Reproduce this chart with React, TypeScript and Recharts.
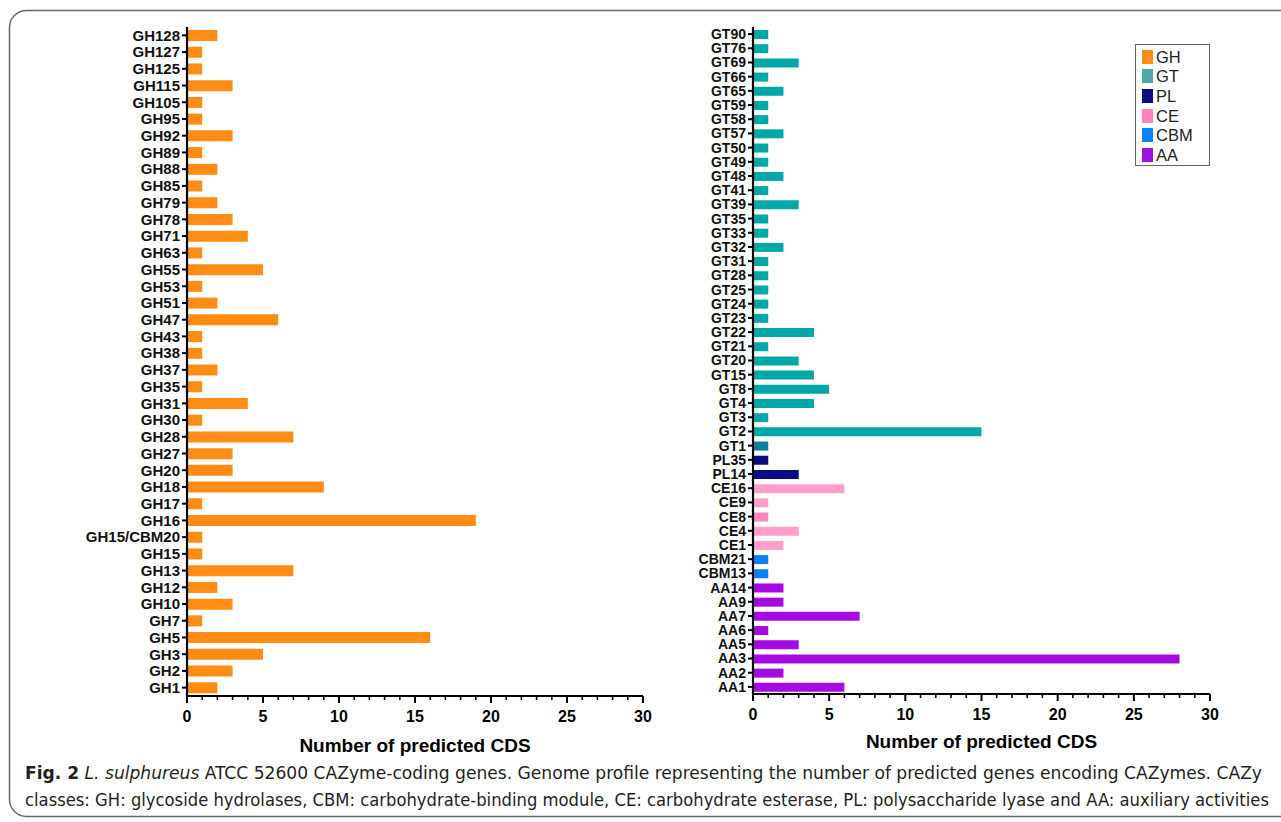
import React from 'react';
import { BarChart, Bar, XAxis, YAxis, Cell, Legend } from 'recharts';

// ---------- data ----------
const ghLabels = [
  'GH128', 'GH127', 'GH125', 'GH115', 'GH105', 'GH95', 'GH92', 'GH89', 'GH88', 'GH85',
  'GH79', 'GH78', 'GH71', 'GH63', 'GH55', 'GH53', 'GH51', 'GH47', 'GH43', 'GH38',
  'GH37', 'GH35', 'GH31', 'GH30', 'GH28', 'GH27', 'GH20', 'GH18', 'GH17', 'GH16',
  'GH15/CBM20', 'GH15', 'GH13', 'GH12', 'GH10', 'GH7', 'GH5', 'GH3', 'GH2', 'GH1',
];
const ghValues = [
  2, 1, 1, 3, 1, 1, 3, 1, 2, 1,
  2, 3, 4, 1, 5, 1, 2, 6, 1, 1,
  2, 1, 4, 1, 7, 3, 3, 9, 1, 19,
  1, 1, 7, 2, 3, 1, 16, 5, 3, 2,
];

const gtLabels = [
  'GT90', 'GT76', 'GT69', 'GT66', 'GT65', 'GT59', 'GT58', 'GT57', 'GT50', 'GT49',
  'GT48', 'GT41', 'GT39', 'GT35', 'GT33', 'GT32', 'GT31', 'GT28', 'GT25', 'GT24',
  'GT23', 'GT22', 'GT21', 'GT20', 'GT15', 'GT8', 'GT4', 'GT3', 'GT2', 'GT1',
];
const gtValues = [
  1, 1, 3, 1, 2, 1, 1, 2, 1, 1,
  2, 1, 3, 1, 1, 2, 1, 1, 1, 1,
  1, 4, 1, 3, 4, 5, 4, 1, 15, 1,
];
const plLabels = ['PL35', 'PL14'];
const plValues = [1, 3];
const ceLabels = ['CE16', 'CE9', 'CE8', 'CE4', 'CE1'];
const ceValues = [6, 1, 1, 3, 2];
const cbmLabels = ['CBM21', 'CBM13'];
const cbmValues = [1, 1];
const aaLabels = ['AA14', 'AA9', 'AA7', 'AA6', 'AA5', 'AA3', 'AA2', 'AA1'];
const aaValues = [2, 2, 7, 1, 3, 28, 2, 6];

const xTicks = [0, 1, 2, 3, 4, 5, 6, 7, 8, 9, 10, 11, 12, 13, 14, 15, 16, 17, 18, 19, 20, 21, 22, 23, 24, 25, 26, 27, 28, 29, 30];
const xMajorTicks = [0, 5, 10, 15, 20, 25, 30];
const legendClasses = ['GH', 'GT', 'PL', 'CE', 'CBM', 'AA'];
const axisTitle = 'Number of predicted CDS';

// ---------- styles ----------
const FONT = '"Liberation Sans", Arial, Helvetica, sans-serif';
const CAPTION_FONT = '"Liberation Sans Narrow", "DejaVu Sans Condensed", "Open Sans", sans-serif';
const barColors: Record<string, string> = {
  GH: '#ff8c14',
  GT: '#00a8a8',
  PL: '#0a0a85',
  CE: '#ff9fcc',
  CBM: '#0a80ff',
  AA: '#a60ae2',
};
const barColorOverrides: Record<string, string> = {
  GT1: '#0b7f9b',
  CE8: '#ff85c2',
};
const legendColors: Record<string, string> = {
  GH: '#ff8c1a',
  GT: '#4fa8a8',
  PL: '#0d0d80',
  CE: '#ff80c0',
  CBM: '#0a84ff',
  AA: '#a010e0',
};

const leftData = ghLabels.map((name, i) => ({ name, value: ghValues[i], cls: 'GH' }));
const rightGroups: [string, string[], number[]][] = [
  ['GT', gtLabels, gtValues],
  ['PL', plLabels, plValues],
  ['CE', ceLabels, ceValues],
  ['CBM', cbmLabels, cbmValues],
  ['AA', aaLabels, aaValues],
];
const rightData = rightGroups.flatMap(([cls, labels, values]) =>
  labels.map((name, i) => ({ name, value: values[i], cls }))
);

const colorFor = (d: { name: string; cls: string }) =>
  barColorOverrides[d.name] ?? barColors[d.cls];

const XTick = (props: any) => {
  const { x, y, payload } = props;
  const major = xMajorTicks.includes(payload.value);
  return (
    <g>
      <line
        x1={x}
        x2={x}
        y1={y}
        y2={y + (major ? 7 : 4)}
        stroke="#000"
        strokeWidth={major ? 2 : 1.6}
      />
      {major && (
        <text
          x={x}
          y={y + 26}
          textAnchor="middle"
          fontSize={16}
          fontWeight="bold"
          fontFamily={FONT}
          fill="#000"
        >
          {payload.value}
        </text>
      )}
    </g>
  );
};

const LegendBox = () => (
  <div
    style={{
      width: 75,
      height: 122,
      boxSizing: 'border-box',
      border: '1.5px solid #666',
      background: '#fff',
      paddingTop: 2,
      fontFamily: FONT,
    }}
  >
    {legendClasses.map((c) => (
      <div
        key={c}
        style={{ display: 'flex', alignItems: 'center', height: 19.6, marginLeft: 6 }}
      >
        <div style={{ width: 11, height: 14, background: legendColors[c], marginRight: 3 }} />
        <span style={{ fontSize: 16.5, color: '#222', lineHeight: '16px' }}>{c}</span>
      </div>
    ))}
  </div>
);

const ChartPanel = ({
  data,
  width,
  yAxisWidth,
  margin,
  barSize,
  titleOffset,
  tickFontSize,
  withLegend,
}: {
  data: { name: string; value: number; cls: string }[];
  width: number;
  yAxisWidth: number;
  margin: { top: number; right: number; bottom: number; left: number };
  barSize: number;
  titleOffset: number;
  tickFontSize: number;
  withLegend?: boolean;
}) => (
  <BarChart width={width} height={822} data={data} layout="vertical" margin={margin}>
    <XAxis
      type="number"
      domain={[0, 30]}
      ticks={xTicks}
      interval={0}
      tickSize={0}
      tickMargin={0}
      tickLine={false}
      tick={<XTick />}
      height={30}
      axisLine={{ stroke: '#000', strokeWidth: 2.2 }}
      label={{
        value: axisTitle,
        position: 'bottom',
        offset: titleOffset,
        style: { fontSize: 19, fontWeight: 'bold', fontFamily: FONT, fill: '#000' },
      }}
    />
    <YAxis
      type="category"
      dataKey="name"
      width={yAxisWidth}
      interval={0}
      tickSize={5}
      tickMargin={2}
      tickLine={{ stroke: '#000', strokeWidth: 2 }}
      axisLine={{ stroke: '#000', strokeWidth: 2.2 }}
      tick={{ fontSize: tickFontSize, fontWeight: 'bold', fontFamily: FONT, fill: '#111' }}
    />
    <Bar dataKey="value" barSize={barSize} isAnimationActive={false}>
      {data.map((d) => (
        <Cell key={d.name} fill={colorFor(d)} />
      ))}
    </Bar>
    {withLegend && (
      <Legend
        layout="vertical"
        align="center"
        verticalAlign="middle"
        content={<LegendBox />}
        wrapperStyle={{ position: 'absolute', left: 475, top: 44, width: 75, height: 122 }}
      />
    )}
  </BarChart>
);

export default function App() {
  return (
    <div
      style={{
        position: 'absolute',
        left: 0,
        top: 0,
        width: 1281,
        height: 822,
        background: '#fff',
        overflow: 'hidden',
      }}
    >
      <svg width={1281} height={822} style={{ position: 'absolute', left: 0, top: 0 }}>
        <rect
          x={9.5}
          y={10.5}
          width={1320}
          height={806}
          rx={17}
          ry={17}
          fill="none"
          stroke="#6a6a6a"
          strokeWidth={1.5}
        />
        <text
          x={25}
          y={779}
          fontSize={18}
          fill="#231f20"
          fontFamily={CAPTION_FONT}
          textLength={1237}
          lengthAdjust="spacingAndGlyphs"
        >
          <tspan fontWeight="bold">Fig. 2</tspan>
          <tspan>{'  '}</tspan>
          <tspan fontStyle="italic">L. sulphureus</tspan>
          <tspan>
            {' ATCC 52600 CAZyme-coding genes. Genome profile representing the number of predicted genes encoding CAZymes. CAZy'}
          </tspan>
        </text>
        <text
          x={25}
          y={806}
          fontSize={18}
          fill="#231f20"
          fontFamily={CAPTION_FONT}
          textLength={1244}
          lengthAdjust="spacingAndGlyphs"
        >
          classes: GH: glycoside hydrolases, CBM: carbohydrate-binding module, CE: carbohydrate esterase, PL: polysaccharide lyase and AA: auxiliary activities
        </text>
      </svg>
      <div style={{ position: 'absolute', left: 0, top: 0 }}>
        <ChartPanel
          data={leftData}
          width={700}
          yAxisWidth={187}
          margin={{ top: 27, right: 57, bottom: 96, left: 0 }}
          barSize={11}
          titleOffset={13}
          tickFontSize={15}
        />
      </div>
      <div style={{ position: 'absolute', left: 660, top: 0 }}>
        <ChartPanel
          data={rightData}
          width={621}
          yAxisWidth={93}
          margin={{ top: 27, right: 71, bottom: 98, left: 0 }}
          barSize={9}
          titleOffset={11}
          tickFontSize={14}
          withLegend
        />
      </div>
    </div>
  );
}
